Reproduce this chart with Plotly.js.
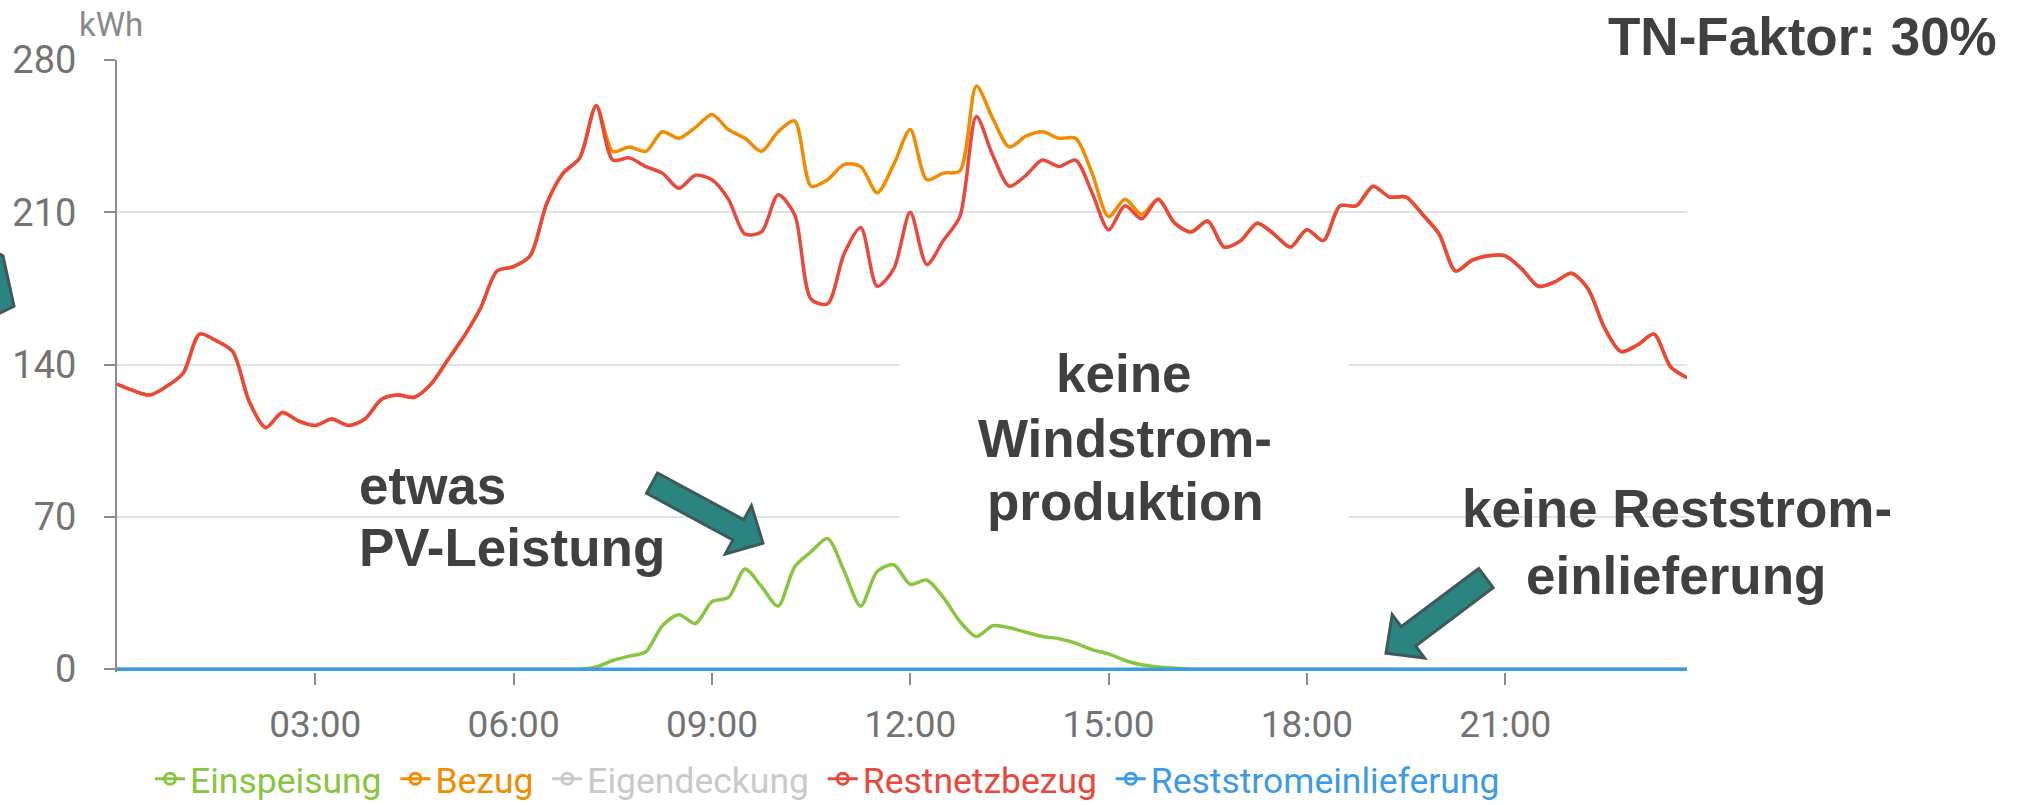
<!DOCTYPE html>
<html>
<head>
<meta charset="utf-8">
<script src="https://cdn.plot.ly/plotly-3.0.1.min.js"></script>
<style>
html,body{margin:0;padding:0;background:#ffffff;}
#chart{width:2028px;height:805px;}
</style>
</head>
<body>
<div id="chart"></div>
<script>
// ---------- data (15-minute values, kWh) ----------
const timeLabels = [
"00:00","00:15","00:30","00:45","01:00","01:15","01:30","01:45",
"02:00","02:15","02:30","02:45","03:00","03:15","03:30","03:45",
"04:00","04:15","04:30","04:45","05:00","05:15","05:30","05:45",
"06:00","06:15","06:30","06:45","07:00","07:15","07:30","07:45",
"08:00","08:15","08:30","08:45","09:00","09:15","09:30","09:45",
"10:00","10:15","10:30","10:45","11:00","11:15","11:30","11:45",
"12:00","12:15","12:30","12:45","13:00","13:15","13:30","13:45",
"14:00","14:15","14:30","14:45","15:00","15:15","15:30","15:45",
"16:00","16:15","16:30","16:45","17:00","17:15","17:30","17:45",
"18:00","18:15","18:30","18:45","19:00","19:15","19:30","19:45",
"20:00","20:15","20:30","20:45","21:00","21:15","21:30","21:45",
"22:00","22:15","22:30","22:45","23:00","23:15","23:30","23:45"];

const einspeisung = [
0,0,0,0, 0,0,0,0, 0,0,0,0, 0,0,0,0,
0,0,0,0, 0,0,0,0, 0,0,0,0, 0,1,4,6,
8,20,25,21, 31,33,46,38, 29,47,54,60, 45,29,45,48,
39,41,33,22, 15,20,19,17, 15,14,12,9, 7,4,2,1,
0.5,0,0,0, 0,0,0,0, 0,0,0,0, 0,0,0,0,
0,0,0,0, 0,0,0,0, 0,0,0,0, 0,0,0,0];

const bezug = [
131,128,126,130, 136,154,151,146, 123,111,118,114, 112,115,112,115,
124,126,125,131, 142,153,166,183, 185,190,214,228, 235,259,238,240,
238,247,244,249, 255,248,244,238, 247,252,222,225, 232,231,219,232,
248,225,228,229, 268,253,240,245, 247,244,244,228, 208,216,209,216,
205,201,206,194, 197,205,200,194, 202,197,213,213, 222,217,217,209,
200,183,188,190, 190,184,176,178, 182,175,157,146, 149,154,139,134];

const restnetzbezug = [
131,128,126,130, 136,154,151,146, 123,111,118,114, 112,115,112,115,
124,126,125,131, 142,153,166,183, 185,190,214,228, 235,259,234,235,
231,228,221,227, 225,216,200,201, 218,209,170,168, 191,203,176,184,
210,186,197,208, 254,236,222,227, 234,231,234,219, 202,213,207,216,
205,201,206,194, 197,205,200,194, 202,197,213,213, 222,217,217,209,
200,183,188,190, 190,184,176,178, 182,175,157,146, 149,154,139,134];

const reststromeinlieferung = [
0,0,0,0, 0,0,0,0, 0,0,0,0, 0,0,0,0,
0,0,0,0, 0,0,0,0, 0,0,0,0, 0,0,0,0,
0,0,0,0, 0,0,0,0, 0,0,0,0, 0,0,0,0,
0,0,0,0, 0,0,0,0, 0,0,0,0, 0,0,0,0,
0,0,0,0, 0,0,0,0, 0,0,0,0, 0,0,0,0,
0,0,0,0, 0,0,0,0, 0,0,0,0, 0,0,0,0];

const seriesNames  = ["Einspeisung","Bezug","Eigendeckung","Restnetzbezug","Reststromeinlieferung"];
const seriesColors = ["#88c540","#f28b00","#c9c9c9","#e9483b","#3d9be3"];
const yTickVals = [0,70,140,210,280];
const xTickHours = ["03:00","06:00","09:00","12:00","15:00","18:00","21:00"];
const yUnit = "kWh";
const badgeText = "TN-Faktor: 30%";

// ---------- layout geometry ----------
const DAY = "2024-01-01 ";
const xs = timeLabels.map(t => DAY + t);
const W = 2028, Hh = 805;
const L = 117, R = 1687;            // plot area left / right (px)
const Y280 = 60, Y0 = 669;          // pixel rows of 280 and 0
const pxPerUnit = (Y0 - Y280) / 280;
const yMin = -1.3;
const PT = Y280, PB = Y0 - yMin * pxPerUnit;
const px = x => (x - L) / (R - L);
const py = y => (PB - y) / (PB - PT);

function lineTrace(vals, i) {
  return {
    x: xs, y: vals, type: "scatter", mode: "lines",
    name: seriesNames[i], showlegend: false, hoverinfo: "skip",
    line: {color: seriesColors[i], width: 3.5, shape: "spline", smoothing: 0.8}
  };
}
function legendTrace(i) {
  return {
    x: [null], y: [null], type: "scatter", mode: "lines+markers",
    name: '<span style="color:' + seriesColors[i] + '">' + seriesNames[i] + '</span>&nbsp;',
    showlegend: true, hoverinfo: "skip",
    line: {color: seriesColors[i], width: 3},
    marker: {symbol: "circle-open", size: 11, color: seriesColors[i], line: {width: 3, color: seriesColors[i]}}
  };
}

const traces = [
  lineTrace(einspeisung, 0),
  lineTrace(bezug, 1),
  lineTrace(restnetzbezug, 3),
  lineTrace(reststromeinlieferung, 4),
  legendTrace(0), legendTrace(1), legendTrace(2), legendTrace(3), legendTrace(4)
];

// block arrow helper (pixel geometry -> paper path)
function arrowPath(tip, tail, sh, hl, hh) {
  const dx = tip[0]-tail[0], dy = tip[1]-tail[1];
  const len = Math.hypot(dx, dy);
  const u = [dx/len, dy/len], n = [-u[1], u[0]];
  const b = [tip[0]-u[0]*hl, tip[1]-u[1]*hl];
  const pts = [
    [tail[0]+n[0]*sh, tail[1]+n[1]*sh],
    [b[0]+n[0]*sh, b[1]+n[1]*sh],
    [b[0]+n[0]*hh, b[1]+n[1]*hh],
    tip,
    [b[0]-n[0]*hh, b[1]-n[1]*hh],
    [b[0]-n[0]*sh, b[1]-n[1]*sh],
    [tail[0]-n[0]*sh, tail[1]-n[1]*sh]
  ];
  return polyPath(pts);
}
function polyPath(pts) {
  return pts.map((p, k) => (k ? "L" : "M") + px(p[0]).toFixed(5) + "," + py(p[1]).toFixed(5)).join(" ") + " Z";
}
const arrowStyle = {type: "path", xref: "paper", yref: "paper", fillcolor: "#2a8580",
  line: {color: "#3f5858", width: 3}, layer: "above"};

const shapes = [
  // white box behind "keine Windstrom-produktion"
  {type: "rect", xref: "paper", yref: "paper", x0: px(900), x1: px(1349), y0: py(545), y1: py(340),
   fillcolor: "#ffffff", line: {width: 0}, layer: "above"},
  Object.assign({path: arrowPath([763, 543], [652, 483], 11.5, 28, 27.5)}, arrowStyle),
  Object.assign({path: arrowPath([1386, 653], [1486, 578], 12, 28, 27)}, arrowStyle),
  Object.assign({path: polyPath([[-10, 248], [3, 256], [14, 306], [-10, 318]])}, arrowStyle)
];

const boldFont = {family: "Liberation Sans, Arial, sans-serif", size: 53, color: "#404040", weight: 700};
function label(text, x, baseline, anchor) {
  return {text: "<b>" + text + "</b>", xref: "paper", yref: "paper", x: px(x), y: py(baseline + 12),
          xanchor: anchor, yanchor: "bottom", showarrow: false, font: boldFont};
}
const annotations = [
  {text: yUnit, xref: "paper", yref: "paper", x: px(77), y: py(46), xanchor: "left", yanchor: "bottom",
   showarrow: false, font: {family: "Roboto, sans-serif", size: 33, color: "#8a8a8a"}},
  label(badgeText, 1999, 56, "right"),
  label("keine", 1124, 393, "center"),
  label("Windstrom-", 1125, 458, "center"),
  label("produktion", 1125, 521, "center"),
  label("etwas", 357, 505, "left"),
  label("PV-Leistung", 357, 567, "left"),
  label("keine Reststrom-", 1677, 528, "center"),
  label("einlieferung", 1676, 595, "center")
];

const layout = {
  width: W, height: Hh,
  margin: {l: L, r: W - R, t: PT, b: Hh - PB, pad: 0, autoexpand: false},
  paper_bgcolor: "#ffffff", plot_bgcolor: "#ffffff",
  font: {family: "Roboto, sans-serif", color: "#737373"},
  showlegend: true,
  legend: {orientation: "h", x: px(150), xanchor: "left", y: py(749), yanchor: "top",
           font: {family: "Roboto, sans-serif", size: 35.5}, itemwidth: 30, tracegroupgap: 0,
           bgcolor: "rgba(0,0,0,0)"},
  xaxis: {
    type: "date", range: [xs[0], xs[xs.length - 1]],
    tickvals: xTickHours.map(t => DAY + t), ticktext: xTickHours,
    showgrid: false, zeroline: false, showline: false,
    ticks: "outside", ticklen: 12, tickwidth: 2, tickcolor: "#8c8c8c",
    ticklabelstandoff: 8,
    tickfont: {family: "Roboto, sans-serif", size: 37, color: "#737373"},
    layer: "below traces", fixedrange: true
  },
  yaxis: {
    range: [yMin, 280], tickvals: yTickVals,
    showgrid: true, gridcolor: "#e3e3e3", gridwidth: 2, zeroline: false,
    showline: true, linecolor: "#8c8c8c", linewidth: 2,
    ticks: "outside", ticklen: 11, tickwidth: 2, tickcolor: "#8c8c8c",
    ticklabelstandoff: 20,
    tickfont: {family: "Roboto, sans-serif", size: 38, color: "#737373"},
    layer: "below traces", fixedrange: true
  },
  shapes: shapes,
  annotations: annotations
};

Plotly.newPlot("chart", traces, layout, {staticPlot: true, displayModeBar: false});
</script>
</body>
</html>
